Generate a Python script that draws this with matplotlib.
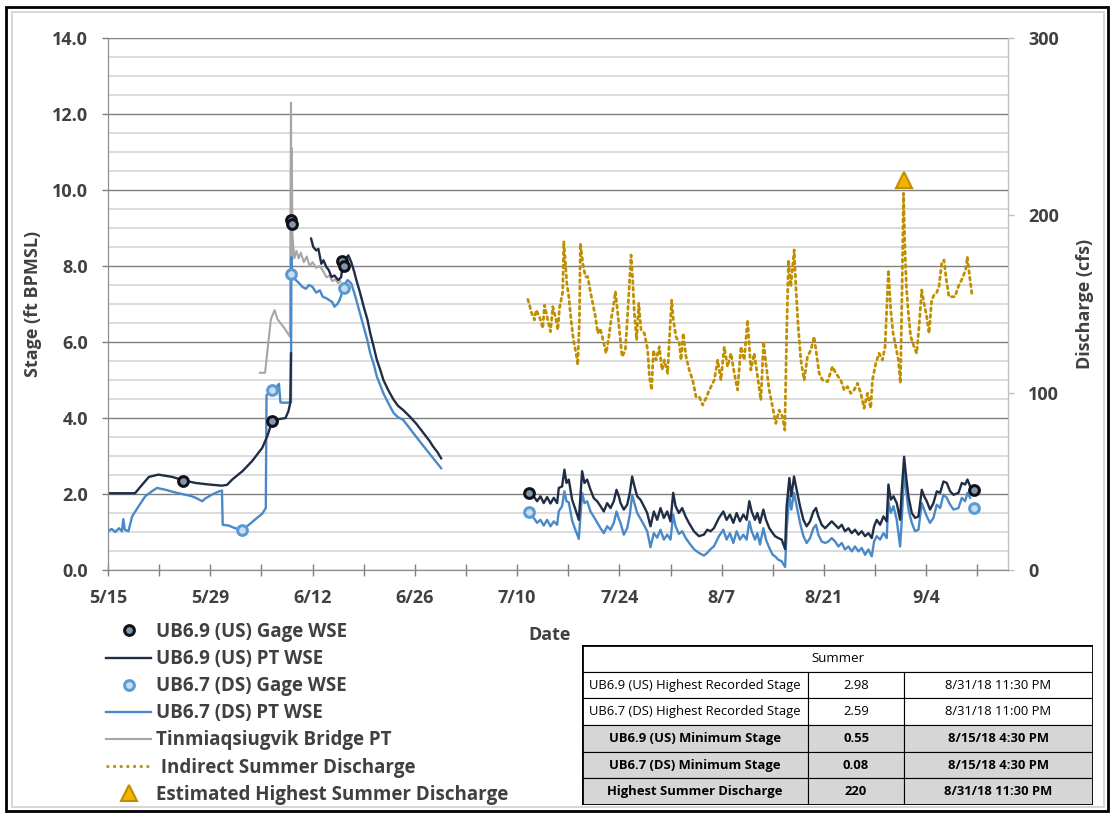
import numpy as np
import pandas as pd
import matplotlib
matplotlib.use('Agg')
import matplotlib.pyplot as plt
from matplotlib.lines import Line2D
from matplotlib.patches import Rectangle
from matplotlib.ticker import MultipleLocator

plt.rcParams['font.family'] = ['Open Sans', 'DejaVu Sans']
plt.rcParams['font.weight'] = 'bold'

nan = float('nan')
start = pd.Timestamp('2018-05-15')

# --- spring (days after 5/15) ---
us_spring_days = [0, 3.7, 4.7, 5.6, 6.9, 8.8, 10.3, 12.0, 13.8, 15.6, 16.3, 17.0, 18.4, 19.7, 21.1, 21.8,
                  22.5, 23.4, 24.3, 24.7, 24.95, 25.05, 26.0, 27.8, 28.1, 28.5, 28.8, 29.2, 29.5, 29.9,
                  30.2, 30.6, 31.0, 31.5, 31.9, 32.2, 32.6, 32.9, 33.3, 33.7, 34.0, 34.5, 35.0, 35.5,
                  35.9, 36.4, 36.8, 37.3, 37.7, 38.4, 39.1, 39.7, 40.4, 41.3, 42.2, 43.2, 44.0, 44.5,
                  45.1, 45.6]
us_spring_stage = [2.02, 2.02, 2.25, 2.45, 2.51, 2.45, 2.36, 2.29, 2.25, 2.22, 2.24, 2.38, 2.6, 2.86, 3.21,
                   3.52, 3.93, 3.97, 4.0, 4.18, 4.4, 5.7, nan, 8.72, 8.5, 8.41, 8.45, 8.06, 8.15, 7.97,
                   7.9, 7.71, 7.75, 7.63, 7.7, 8.1, 8.2, 8.28, 8.1, 7.85, 7.63, 7.3, 6.93, 6.6,
                   6.23, 5.85, 5.53, 5.25, 5.0, 4.72, 4.48, 4.32, 4.21, 4.04, 3.85, 3.6, 3.4, 3.25,
                   3.1, 2.94]

ds_spring_days = [0, 0.5, 1.0, 1.5, 1.9, 2.1, 2.3, 2.8, 3.3, 4.2, 5.1, 6.0, 6.7, 7.9, 9.2, 10.6, 11.3,
                  12.0, 12.5, 12.9, 13.3, 14.2, 15.2, 15.6, 15.7, 16.5, 17.4, 18.3, 19.3, 20.2, 21.1,
                  21.6, 21.7, 22.4, 23.0, 23.4, 23.6, 24.2, 24.7, 25.05, 25.1, 25.2, 25.6, 26.2, 26.6,
                  27.1, 27.5, 28.0, 28.5, 29.0, 29.4, 29.9, 30.3, 30.7, 31.0, 31.4, 31.7, 32.2, 32.5,
                  32.8, 33.3, 33.7, 34.0, 34.5, 35.0, 35.5, 35.9, 36.4, 36.8, 37.3, 37.7, 38.4, 39.1,
                  39.7, 40.4, 41.1, 41.8, 42.7, 43.6, 44.6, 45.6]
ds_spring_stage = [1.02, 1.08, 1.0, 1.1, 1.02, 1.34, 1.06, 1.02, 1.41, 1.68, 1.94, 2.07, 2.16, 2.11, 2.04,
                   1.98, 1.95, 1.9, 1.85, 1.81, 1.88, 1.98, 2.07, 2.09, 1.19, 1.17, 1.1, 1.06, 1.19,
                   1.34, 1.48, 1.63, 4.6, 4.75, 4.8, 4.9, 4.41, 4.4, 4.41, 4.41, 8.24, 7.8, 7.65, 7.54,
                   7.45, 7.4, 7.5, 7.45, 7.3, 7.36, 7.19, 7.15, 7.1, 7.05, 6.93, 7.0, 7.1, 7.4, 7.55,
                   7.63, 7.54, 7.3, 7.1, 6.75, 6.4, 6.05, 5.7, 5.4, 5.09, 4.85, 4.65, 4.38, 4.13, 4.02,
                   3.95, 3.78, 3.6, 3.38, 3.16, 2.92, 2.68]

bridge_days = [20.8, 21.5, 21.9, 22.3, 22.8, 23.2, 23.6, 24.2, 24.9, 25.05, 25.1, 25.15, 25.25, 25.5,
               25.8, 26.1, 26.4, 26.8, 27.2, 27.6, 28.0, 28.5, 29.0, 29.5, 29.9, 30.3, 30.7, 31.1,
               31.5, 31.8]
bridge_stage = [5.19, 5.19, 5.9, 6.6, 6.84, 6.6, 6.5, 6.35, 6.14, 12.3, 8.0, 11.1, 8.8, 8.2, 8.4, 8.2,
                8.35, 8.1, 8.25, 8.0, 8.1, 7.95, 8.0, 7.85, 7.7, 7.75, 7.6, 7.65, 7.55, 7.6]

# --- summer stage (days after 5/15) ---
summer_days = [57.6, 58.28, 58.74, 59.2, 59.65, 60.11, 60.57, 61.02, 61.48, 61.71, 62.16, 62.48, 62.76,
               63.08, 63.53, 63.99, 64.45, 64.9, 65.22, 65.59, 66.05, 66.5, 66.96, 67.42, 67.87, 68.33,
               68.79, 69.24, 69.61, 69.93, 70.16, 70.61, 71.07, 71.43, 71.75, 72.07, 72.44, 72.89,
               73.35, 73.81, 74.26, 74.72, 75.18, 75.63, 76.09, 76.55, 77.0, 77.37, 77.69, 78.15,
               78.6, 79.06, 79.52, 80.2, 80.89, 81.57, 82.03, 82.48, 82.94, 83.63,
               84.23, 84.68, 85.14, 85.6, 86.05, 86.51, 86.97, 87.42, 87.79, 88.11, 88.57, 88.89,
               89.25, 89.71, 90.07, 90.53, 90.99, 91.31, 91.76, 92.22, 92.69, 92.9, 93.27, 93.54,
               93.91, 94.27, 94.73, 95.19, 95.64, 96.1, 96.56, 96.92, 97.24, 97.7, 98.16, 98.61,
               99.07, 99.53, 99.98, 100.44, 100.89, 101.35, 101.81, 102.26, 102.72, 103.18, 103.63,
               104.09, 104.55, 104.87, 105.23, 105.69, 106.15, 106.6, 106.83, 107.15, 107.52, 107.97,
               108.43, 108.66, 108.98, 109.25, 109.57, 110.03, 110.48, 110.94, 111.4, 111.72, 112.08,
               112.53, 112.99, 113.45, 113.91, 114.36, 114.82, 115.28, 115.74, 116.42, 116.88,
               117.33, 117.65, 118.02]
us_summer_stage = [2.02, 1.94, 1.81, 1.94, 1.76, 1.92, 1.75, 1.9, 1.76, 2.16, 2.2,
                   2.64, 2.29, 2.38, 1.85, 1.59, 1.32, 2.6, 2.29, 2.38, 2.11,
                   1.89, 1.81, 1.68, 1.54, 1.76, 1.63, 1.81, 2.11, 1.94, 1.76,
                   1.59, 1.72, 2.03, 2.46, 2.2, 1.94, 1.85, 1.68, 1.5, 1.15,
                   1.54, 1.32, 1.63, 1.37, 1.54, 1.28, 2.03, 1.68, 1.5, 1.63,
                   1.41, 1.24, 1.02, 0.89, 0.93, 1.06, 1.02, 1.1, 1.37,
                   1.54, 1.32, 1.46, 1.24, 1.5, 1.28, 1.46, 1.32, 1.81, 1.54,
                   1.32, 1.5, 1.24, 1.59, 1.32, 1.1, 0.97, 0.89, 0.84, 0.8,
                   0.55, 1.68, 2.42, 1.94, 2.46, 2.11, 1.68, 1.32, 1.15, 1.28,
                   1.54, 1.63, 1.41, 1.19, 1.1, 1.19, 1.28, 1.19, 1.1, 1.19,
                   1.02, 1.1, 0.97, 1.06, 0.93, 1.02, 0.89, 0.97, 0.84, 1.15,
                   1.32, 1.19, 1.41, 1.28, 2.25, 1.85, 1.94, 1.76, 1.32, 2.11,
                   2.98, 2.46, 1.94, 1.5, 1.37, 1.41, 2.11, 1.94, 1.81, 1.59,
                   1.76, 2.07, 2.03, 2.33, 2.29, 2.07, 1.98, 2.03, 2.29, 2.25,
                   2.38, 2.2]
ds_summer_stage = [1.52, 1.37, 1.24, 1.32, 1.17, 1.32, 1.15, 1.28, 1.19, 1.55, 1.68,
                   2.07, 1.81, 1.78, 1.3, 1.05, 0.82, 2.03, 1.76, 1.81, 1.54,
                   1.4, 1.25, 1.1, 0.97, 1.15, 1.06, 1.24, 1.54, 1.35, 1.24,
                   0.93, 1.1, 1.45, 1.98, 1.75, 1.5, 1.35, 1.19, 1.02, 0.6,
                   0.97, 0.85, 1.06, 0.8, 0.93, 0.8, 1.46, 1.15, 0.95, 1.02,
                   0.85, 0.72, 0.55, 0.45, 0.38, 0.45, 0.55, 0.62, 0.89,
                   1.06, 0.8, 0.97, 0.71, 1.02, 0.8, 0.93, 0.8, 1.28, 1.02,
                   0.8, 0.97, 0.67, 1.1, 0.8, 0.58, 0.4, 0.36, 0.27, 0.23,
                   0.08, 1.06, 1.98, 1.59, 2.03, 1.68, 1.24, 0.89, 0.71, 0.84,
                   1.1, 1.19, 0.93, 0.75, 0.71, 0.75, 0.84, 0.75, 0.62, 0.71,
                   0.54, 0.62, 0.49, 0.62, 0.49, 0.58, 0.4, 0.54, 0.36, 0.75,
                   0.89, 0.8, 0.97, 0.84, 1.81, 1.5, 1.68, 1.32, 0.62, 1.32,
                   2.59, 2.11, 1.59, 1.24, 1.02, 1.06, 1.76, 1.59, 1.41, 1.24,
                   1.37, 1.72, 1.63, 1.98, 1.9, 1.72, 1.59, 1.63, 1.9, 1.81,
                   2.03, 1.9]

# --- gage readings ---
us_gage_days = [10.3, 22.5, 25.0, 25.25, 32.1, 32.25, 57.6, 118.5]
us_gage_stage = [2.35, 3.92, 9.2, 9.1, 8.12, 8.0, 2.02, 2.1]
ds_gage_days = [18.3, 22.4, 25.1, 32.3, 57.6, 118.6]
ds_gage_stage = [1.06, 4.75, 7.8, 7.42, 1.52, 1.63]

# --- indirect discharge (cfs) ---
q_days = [57.47, 57.7, 57.92, 58.38, 58.61, 59.06, 59.52, 59.75, 60.2, 60.57,
          60.89, 61.34, 61.57, 61.8, 62.03, 62.25, 62.39, 62.62, 62.8, 63.08,
          63.39, 63.71, 64.08, 64.3, 64.53, 64.67, 64.99, 65.35, 65.67, 65.99,
          66.36, 66.72, 67.04, 67.36, 67.72, 68.18, 68.54, 68.86, 69.18, 69.46,
          69.78, 70.0, 70.37, 70.82, 71.14, 71.37, 71.6, 71.83, 72.05, 72.37,
          72.65, 72.97, 73.42, 73.88, 74.11, 74.42, 74.65, 75.02, 75.47, 75.84,
          76.16, 76.61, 76.84, 77.16, 77.39, 77.75, 78.21, 78.44, 78.75, 79.12,
          79.57, 80.03, 80.49, 80.94, 81.4, 81.85, 82.31, 82.99, 83.45, 83.9,
          84.36, 84.81, 85.27, 85.73, 86.18, 86.64, 87.09, 87.55, 88.0, 88.46,
          88.92, 89.37, 89.74, 90.06, 90.51, 90.97, 91.42, 91.88, 92.33, 92.65,
          92.88, 93.15, 93.47, 93.93, 94.16, 94.48, 94.84, 95.3, 95.75, 96.21,
          96.66, 96.98, 97.35, 97.8, 98.49, 99.17, 99.63, 100.31, 100.77, 101.22,
          101.68, 102.13, 102.59, 103.05, 103.5, 103.96, 104.41, 104.64, 105.1, 105.55,
          106.01, 106.37, 106.69, 106.83, 107.15, 107.47, 107.83, 108.2, 108.47, 108.65,
          108.9, 109.1, 109.29, 109.56, 109.88, 110.34, 110.7, 111.02, 111.39, 111.7,
          112.07, 112.39, 112.75, 113.07, 113.39, 113.76, 114.12, 114.44, 114.76, 115.12,
          115.49, 115.94, 116.4, 116.95, 117.4, 117.63, 117.95, 118.31]
q_cfs = [152.6, 149.4, 145.7, 141, 146.6, 142.9, 136.3, 149.4, 141, 134.4,
         148.5, 141, 135.3, 147.6, 152.3, 157, 185.2, 173, 161.7, 154.1,
         141, 129.7, 122.2, 115.6, 141, 184.2, 173, 165.4, 165.4, 157.9,
         150.4, 142.9, 133.5, 136.3, 130.6, 122.2, 130.6, 141, 148.5, 157,
         144.8, 135.3, 120.3, 124, 144.8, 161.7, 177.6, 163.5, 144.8, 129.7,
         150.4, 135.3, 133.5, 124, 109, 101.5, 124, 118.4, 125.9, 112.8,
         118.4, 110.9, 129.7, 152.3, 141, 131.6, 127.8, 118.4, 133.5, 120.3,
         112.8, 107.1, 97.7, 97.7, 93.0, 96.8, 101.5, 107.1, 118.4, 107.1,
         125.9, 114.7, 122.2, 110.9, 101.5, 125.9, 118.4, 141, 112.8, 122.2,
         109, 95.9, 128.8, 116.5, 101.5, 92.1, 82.7, 90.2, 86.5, 78.9,
         129.7, 174.8, 159.8, 180.5, 159.8, 137.2, 118.4, 107.1, 120.3, 124,
         131.6, 122.2, 110.9, 107.1, 106.2, 114.7, 110.9, 107.1, 101.5, 103.4,
         99.6, 101.5, 105.3, 99.6, 91.2, 99.6, 91.2, 107.1, 116.5, 122.2,
         118.4, 125.9, 156, 169.2, 146.6, 133.5, 125.9, 118.4, 105.3, 146.6,
         212.4, 180.5, 159.8, 144.8, 131.6, 125.9, 122.2, 137.2, 157.9, 150.4,
         142.9, 133.5, 152.3, 155.1, 156.0, 159.8, 173, 174.8, 163.5, 154.1,
         154.1, 154.1, 159.8, 164.5, 169.2, 176.7, 165.4, 154.1]
peak_q_day = 108.98
peak_q_cfs = 220

x_tick_labels = ['5/15', '5/29', '6/12', '6/26', '7/10', '7/24', '8/7', '8/21', '9/4']

legend_labels = ['UB6.9 (US) Gage WSE', 'UB6.9 (US) PT WSE', 'UB6.7 (DS) Gage WSE',
                 'UB6.7 (DS) PT WSE', 'Tinmiaqsiugvik Bridge PT', ' Indirect Summer Discharge',
                 'Estimated Highest Summer Discharge']

table_title = 'Summer'
table_names = ['UB6.9 (US) Highest Recorded Stage', 'UB6.7 (DS) Highest Recorded Stage',
               'UB6.9 (US) Minimum Stage', 'UB6.7 (DS) Minimum Stage', 'Highest Summer Discharge']
table_values = ['2.98', '2.59', '0.55', '0.08', '220']
table_times = ['8/31/18 11:30 PM', '8/31/18 11:00 PM', '8/15/18 4:30 PM', '8/15/18 4:30 PM',
               '8/31/18 11:30 PM']

US_C = '#1F2D45'
DS_C = '#4A89C8'
GRAY_C = '#A6A6A6'
Q_C = '#BF8F00'
TXT = '#404040'


def to_dates(days):
    return start + pd.to_timedelta(np.asarray(days, dtype=float), unit='D')


W, H = 1112, 813
fig = plt.figure(figsize=(W / 100, H / 100), dpi=100)

# figure frames
fig.add_artist(Rectangle((6 / W, 1 - 811 / H), 1102 / W, 804 / H, transform=fig.transFigure,
                         fill=False, ec='black', lw=2))
fig.add_artist(Rectangle((12 / W, 1 - 807 / H), 1092 / W, 795 / H, transform=fig.transFigure,
                         fill=False, ec='#D0D0D0', lw=1.2))

ax = fig.add_axes([108 / W, 1 - 570 / H, 900 / W, 532 / H])
ax2 = ax.twinx()

ax.plot(to_dates(us_spring_days), us_spring_stage, color=US_C, lw=1.7, zorder=4)
ax.plot(to_dates(summer_days), us_summer_stage, color=US_C, lw=1.7, zorder=4)
ax.plot(to_dates(ds_spring_days), ds_spring_stage, color=DS_C, lw=1.7, zorder=3)
ax.plot(to_dates(summer_days), ds_summer_stage, color=DS_C, lw=1.7, zorder=3)
ax.plot(to_dates(bridge_days), bridge_stage, color=GRAY_C, lw=1.5, zorder=2)
ax.plot(to_dates(ds_gage_days), ds_gage_stage, ls='none', marker='o', ms=7, mfc='#C9DDF0',
        mec='#5B9BD5', mew=2.2, zorder=5)
ax.plot(to_dates(us_gage_days), us_gage_stage, ls='none', marker='o', ms=7, mfc='#8497B0',
        mec='#101018', mew=2.2, zorder=6)

ax2.plot(to_dates(q_days), q_cfs, color=Q_C, lw=2.0, ls=(0, (1, 1.4)), dash_capstyle='round')
ax2.plot(to_dates([peak_q_day]), [peak_q_cfs], ls='none', marker='^', ms=11, mfc='#F2B400',
         mec=Q_C, mew=1.5)

xmin, xmax = start, start + pd.Timedelta(days=123.2)
ax.set_xlim(xmin, xmax)
ax.set_ylim(0, 14)
ax2.set_ylim(0, 300)

tick_dates = pd.date_range(start, periods=18, freq='7D')
ax.set_xticks(tick_dates)
labels = []
for i in range(len(tick_dates)):
    labels.append(x_tick_labels[i // 2] if i % 2 == 0 else '')
ax.set_xticklabels(labels)

ax.yaxis.set_minor_locator(MultipleLocator(0.5))
ax.set_yticks(np.arange(0, 14.1, 2))
ax.set_yticklabels([f'{v:.1f}' for v in np.arange(0, 14.1, 2)])
ax2.set_yticks([0, 100, 200, 300])

ax.grid(which='major', axis='y', color='#7F7F7F', lw=1.0, zorder=0)
ax.grid(which='minor', axis='y', color='#D9D9D9', lw=1.3, zorder=0)
ax.set_axisbelow(True)

for a in (ax, ax2):
    for s in a.spines.values():
        s.set_color('#8C8C8C')
    a.spines['top'].set_visible(False)
ax2.spines['right'].set_color('#BFBFBF')

ax.tick_params(axis='x', direction='inout', length=9, width=1, color='#7F7F7F', pad=9,
               labelsize=13, labelcolor=TXT)
ax.tick_params(axis='y', which='major', length=4.5, width=1, color='#7F7F7F', pad=10,
               labelsize=13, labelcolor=TXT)
ax.tick_params(axis='y', which='minor', length=0)
ax2.tick_params(axis='y', length=4.5, width=1, color='#BFBFBF', pad=10, labelsize=13,
                labelcolor=TXT)
for lab in ax.get_xticklabels() + ax.get_yticklabels() + ax2.get_yticklabels():
    lab.set_fontweight('bold')

fig.text(33 / W, 1 - 304 / H, 'Stage (ft BPMSL)', rotation=90, ha='center', va='center',
         fontsize=13, color=TXT, fontweight='bold')
fig.text(1085 / W, 1 - 304 / H, 'Discharge (cfs)', rotation=90, ha='center', va='center',
         fontsize=13, color=TXT, fontweight='bold')
fig.text(550 / W, 1 - 635 / H, 'Date', ha='center', va='center', fontsize=13, color=TXT,
         fontweight='bold')

handles = [
    Line2D([], [], ls='none', marker='o', ms=7, mfc='#8497B0', mec='#101018', mew=2.2),
    Line2D([], [], color=US_C, lw=1.7),
    Line2D([], [], ls='none', marker='o', ms=7, mfc='#C9DDF0', mec='#5B9BD5', mew=2.2),
    Line2D([], [], color=DS_C, lw=1.7),
    Line2D([], [], color=GRAY_C, lw=1.5),
    Line2D([], [], color=Q_C, lw=2.0, ls=(0, (1, 1.4))),
    Line2D([], [], ls='none', marker='^', ms=11, mfc='#F2B400', mec=Q_C, mew=1.5),
]
leg = fig.legend(handles, legend_labels, loc='upper left', bbox_to_anchor=(106 / W, 1 - 622 / H),
                 frameon=False, fontsize=13.5, handlelength=2.4, handletextpad=0.25,
                 labelspacing=0.38, borderaxespad=0, borderpad=0)
for t in leg.get_texts():
    t.set_color(TXT)
    t.set_fontweight('bold')

# summary table
tx0, tx1, ty0, ty1 = 582, 1093, 645, 805
tab = fig.add_axes([tx0 / W, 1 - ty1 / H, (tx1 - tx0) / W, (ty1 - ty0) / H])
tab.set_xlim(tx0, tx1)
tab.set_ylim(ty1, ty0)
tab.axis('off')
col_edges = [tx0, 808, 904, tx1]
n_rows = len(table_names) + 1
row_h = (ty1 - ty0) / n_rows
tab.add_patch(Rectangle((tx0, ty0), tx1 - tx0, row_h, fc='white', ec='black', lw=0.8))
tab.text((tx0 + tx1) / 2, ty0 + row_h / 2, table_title, ha='center', va='center', fontsize=9.5,
         fontweight='normal', color='black')
for r in range(len(table_names)):
    y0 = ty0 + row_h * (r + 1)
    shaded = r >= 2
    fc = '#D6D6D6' if shaded else 'white'
    cells = [table_names[r], table_values[r], table_times[r]]
    for c in range(3):
        tab.add_patch(Rectangle((col_edges[c], y0), col_edges[c + 1] - col_edges[c], row_h,
                                fc=fc, ec='black', lw=0.8))
        tab.text((col_edges[c] + col_edges[c + 1]) / 2, y0 + row_h / 2, cells[c], ha='center',
                 va='center', fontsize=9.4, color='black',
                 fontweight='bold' if shaded else 'normal')
tab.add_patch(Rectangle((tx0, ty0), tx1 - tx0, ty1 - ty0, fill=False, ec='black', lw=2))

fig.savefig('out.png', dpi=100)
